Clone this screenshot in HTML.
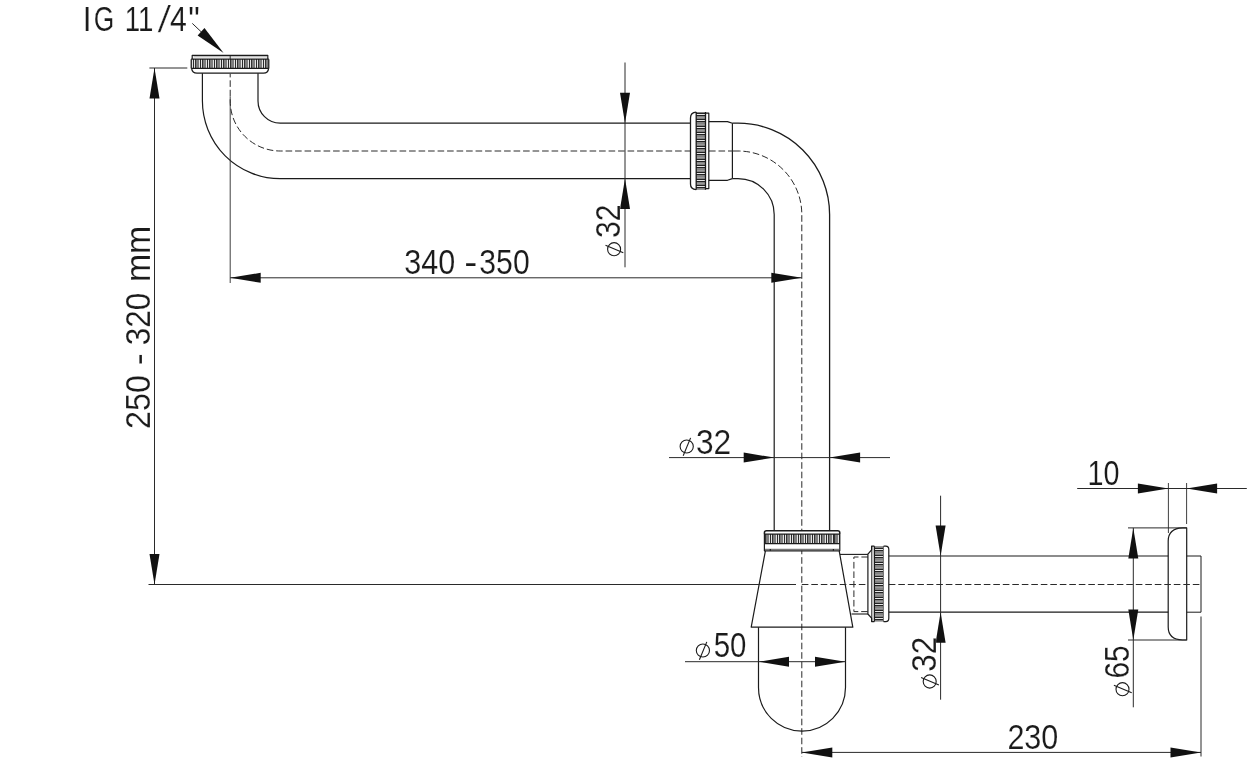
<!DOCTYPE html>
<html><head><meta charset="utf-8"><title>Siphon drawing</title>
<style>
html,body{margin:0;padding:0;background:#fff;}
body{width:1250px;height:763px;overflow:hidden;font-family:"Liberation Sans",sans-serif;}
svg{display:block;will-change:transform}
svg text{font-family:"Liberation Sans",sans-serif;fill:#1b1b1b;stroke:#fff;stroke-width:0.15px;paint-order:fill stroke;}
</style></head><body>
<svg width="1250" height="763" viewBox="0 0 1250 763">
<rect width="1250" height="763" fill="#fff"/>
<path d="M202.4,73.2 V100.80 A77.80,77.80 0 0 0 280.2,178.6 H690.5" fill="none" stroke="#1b1b1b" stroke-width="1.2" stroke-linejoin="round"/>
<path d="M258.0,73.2 V101.00 A22.20,22.20 0 0 0 280.2,123.2 H690.5" fill="none" stroke="#1b1b1b" stroke-width="1.2" stroke-linejoin="round"/>
<path d="M230.2,73.8 V101.00 A50.00,50.00 0 0 0 280.2,151.0 H690.5" fill="none" stroke="#2a2a2a" stroke-width="1.0" stroke-dasharray="6.6 2.9" stroke-dashoffset="3" stroke-linejoin="round"/>
<path d="M192.2,59.2 V55.3 H267.8 V59.2" fill="none" stroke="#1b1b1b" stroke-width="1.2" stroke-linejoin="round"/>
<line x1="193.5" y1="56.8" x2="267" y2="56.8" stroke="#666" stroke-width="0.6"/>
<line x1="230.2" y1="55.3" x2="230.2" y2="59.2" stroke="#1b1b1b" stroke-width="0.9"/>
<rect x="191.2" y="59.2" width="77.60" height="9.20" fill="#7e7e7e"/>
<g shape-rendering="crispEdges"><rect x="191.50" y="59.2" width="1.00" height="9.20" fill="#e4e4e4"/><rect x="192.50" y="59.2" width="1.00" height="9.20" fill="#2a2a2a"/><rect x="193.50" y="59.2" width="1.00" height="9.20" fill="#e4e4e4"/><rect x="194.50" y="59.2" width="1.00" height="9.20" fill="#333"/><rect x="198.50" y="59.2" width="1.00" height="9.20" fill="#e4e4e4"/><rect x="199.50" y="59.2" width="1.00" height="9.20" fill="#2a2a2a"/><rect x="200.50" y="59.2" width="1.00" height="9.20" fill="#e4e4e4"/><rect x="201.50" y="59.2" width="1.00" height="9.20" fill="#333"/><rect x="205.50" y="59.2" width="1.00" height="9.20" fill="#e4e4e4"/><rect x="206.50" y="59.2" width="1.00" height="9.20" fill="#2a2a2a"/><rect x="207.50" y="59.2" width="1.00" height="9.20" fill="#e4e4e4"/><rect x="208.50" y="59.2" width="1.00" height="9.20" fill="#333"/><rect x="212.50" y="59.2" width="1.00" height="9.20" fill="#e4e4e4"/><rect x="213.50" y="59.2" width="1.00" height="9.20" fill="#2a2a2a"/><rect x="214.50" y="59.2" width="1.00" height="9.20" fill="#e4e4e4"/><rect x="215.50" y="59.2" width="1.00" height="9.20" fill="#333"/><rect x="219.50" y="59.2" width="1.00" height="9.20" fill="#e4e4e4"/><rect x="220.50" y="59.2" width="1.00" height="9.20" fill="#2a2a2a"/><rect x="221.50" y="59.2" width="1.00" height="9.20" fill="#e4e4e4"/><rect x="222.50" y="59.2" width="1.00" height="9.20" fill="#333"/><rect x="226.50" y="59.2" width="1.00" height="9.20" fill="#e4e4e4"/><rect x="227.50" y="59.2" width="1.00" height="9.20" fill="#2a2a2a"/><rect x="228.50" y="59.2" width="1.00" height="9.20" fill="#e4e4e4"/><rect x="229.50" y="59.2" width="1.00" height="9.20" fill="#333"/><rect x="233.50" y="59.2" width="1.00" height="9.20" fill="#e4e4e4"/><rect x="234.50" y="59.2" width="1.00" height="9.20" fill="#2a2a2a"/><rect x="235.50" y="59.2" width="1.00" height="9.20" fill="#e4e4e4"/><rect x="236.50" y="59.2" width="1.00" height="9.20" fill="#333"/><rect x="240.50" y="59.2" width="1.00" height="9.20" fill="#e4e4e4"/><rect x="241.50" y="59.2" width="1.00" height="9.20" fill="#2a2a2a"/><rect x="242.50" y="59.2" width="1.00" height="9.20" fill="#e4e4e4"/><rect x="243.50" y="59.2" width="1.00" height="9.20" fill="#333"/><rect x="247.50" y="59.2" width="1.00" height="9.20" fill="#e4e4e4"/><rect x="248.50" y="59.2" width="1.00" height="9.20" fill="#2a2a2a"/><rect x="249.50" y="59.2" width="1.00" height="9.20" fill="#e4e4e4"/><rect x="250.50" y="59.2" width="1.00" height="9.20" fill="#333"/><rect x="254.50" y="59.2" width="1.00" height="9.20" fill="#e4e4e4"/><rect x="255.50" y="59.2" width="1.00" height="9.20" fill="#2a2a2a"/><rect x="256.50" y="59.2" width="1.00" height="9.20" fill="#e4e4e4"/><rect x="257.50" y="59.2" width="1.00" height="9.20" fill="#333"/><rect x="261.50" y="59.2" width="1.00" height="9.20" fill="#e4e4e4"/><rect x="262.50" y="59.2" width="1.00" height="9.20" fill="#2a2a2a"/><rect x="263.50" y="59.2" width="1.00" height="9.20" fill="#e4e4e4"/><rect x="264.50" y="59.2" width="1.00" height="9.20" fill="#333"/><rect x="268.50" y="59.2" width="0.30" height="9.20" fill="#e4e4e4"/></g>
<line x1="191.2" y1="59.2" x2="268.8" y2="59.2" stroke="#1b1b1b" stroke-width="1.25"/>
<line x1="191.2" y1="68.4" x2="268.8" y2="68.4" stroke="#1b1b1b" stroke-width="1.25"/>
<path d="M191.2,59.2 V68.4 M268.8,59.2 V68.4" fill="none" stroke="#1b1b1b" stroke-width="1.2" stroke-linejoin="round"/>
<path d="M191.6,68.4 Q192.2,73.2 197,73.2 H263.5 Q268.2,73.2 268.6,68.4" fill="none" stroke="#1b1b1b" stroke-width="1.2" stroke-linejoin="round"/>
<path d="M696.2,112.2 Q690.5,112.4 690.5,118 V184 Q690.5,189.4 696.2,189.6" fill="none" stroke="#1b1b1b" stroke-width="1.3" stroke-linejoin="round"/>
<rect x="696.2" y="112.0" width="9.30" height="77.80" fill="#838383"/>
<g shape-rendering="crispEdges"><rect x="696.2" y="112.60" width="9.30" height="1.00" fill="#222"/><rect x="696.2" y="113.60" width="9.30" height="1.00" fill="#e8e8e8"/><rect x="696.2" y="114.60" width="9.30" height="1.00" fill="#222"/><rect x="696.2" y="117.20" width="9.30" height="1.00" fill="#9a9a9a"/><rect x="696.2" y="119.20" width="9.30" height="1.00" fill="#222"/><rect x="696.2" y="120.20" width="9.30" height="1.00" fill="#e8e8e8"/><rect x="696.2" y="121.20" width="9.30" height="1.00" fill="#222"/><rect x="696.2" y="123.80" width="9.30" height="1.00" fill="#9a9a9a"/><rect x="696.2" y="125.80" width="9.30" height="1.00" fill="#222"/><rect x="696.2" y="126.80" width="9.30" height="1.00" fill="#e8e8e8"/><rect x="696.2" y="127.80" width="9.30" height="1.00" fill="#222"/><rect x="696.2" y="130.40" width="9.30" height="1.00" fill="#9a9a9a"/><rect x="696.2" y="132.40" width="9.30" height="1.00" fill="#222"/><rect x="696.2" y="133.40" width="9.30" height="1.00" fill="#e8e8e8"/><rect x="696.2" y="134.40" width="9.30" height="1.00" fill="#222"/><rect x="696.2" y="137.00" width="9.30" height="1.00" fill="#9a9a9a"/><rect x="696.2" y="139.00" width="9.30" height="1.00" fill="#222"/><rect x="696.2" y="140.00" width="9.30" height="1.00" fill="#e8e8e8"/><rect x="696.2" y="141.00" width="9.30" height="1.00" fill="#222"/><rect x="696.2" y="143.60" width="9.30" height="1.00" fill="#9a9a9a"/><rect x="696.2" y="145.60" width="9.30" height="1.00" fill="#222"/><rect x="696.2" y="146.60" width="9.30" height="1.00" fill="#e8e8e8"/><rect x="696.2" y="147.60" width="9.30" height="1.00" fill="#222"/><rect x="696.2" y="150.20" width="9.30" height="1.00" fill="#9a9a9a"/><rect x="696.2" y="152.20" width="9.30" height="1.00" fill="#222"/><rect x="696.2" y="153.20" width="9.30" height="1.00" fill="#e8e8e8"/><rect x="696.2" y="154.20" width="9.30" height="1.00" fill="#222"/><rect x="696.2" y="156.80" width="9.30" height="1.00" fill="#9a9a9a"/><rect x="696.2" y="158.80" width="9.30" height="1.00" fill="#222"/><rect x="696.2" y="159.80" width="9.30" height="1.00" fill="#e8e8e8"/><rect x="696.2" y="160.80" width="9.30" height="1.00" fill="#222"/><rect x="696.2" y="163.40" width="9.30" height="1.00" fill="#9a9a9a"/><rect x="696.2" y="165.40" width="9.30" height="1.00" fill="#222"/><rect x="696.2" y="166.40" width="9.30" height="1.00" fill="#e8e8e8"/><rect x="696.2" y="167.40" width="9.30" height="1.00" fill="#222"/><rect x="696.2" y="170.00" width="9.30" height="1.00" fill="#9a9a9a"/><rect x="696.2" y="172.00" width="9.30" height="1.00" fill="#222"/><rect x="696.2" y="173.00" width="9.30" height="1.00" fill="#e8e8e8"/><rect x="696.2" y="174.00" width="9.30" height="1.00" fill="#222"/><rect x="696.2" y="176.60" width="9.30" height="1.00" fill="#9a9a9a"/><rect x="696.2" y="178.60" width="9.30" height="1.00" fill="#222"/><rect x="696.2" y="179.60" width="9.30" height="1.00" fill="#e8e8e8"/><rect x="696.2" y="180.60" width="9.30" height="1.00" fill="#222"/><rect x="696.2" y="183.20" width="9.30" height="1.00" fill="#9a9a9a"/><rect x="696.2" y="185.20" width="9.30" height="1.00" fill="#222"/><rect x="696.2" y="186.20" width="9.30" height="1.00" fill="#e8e8e8"/><rect x="696.2" y="187.20" width="9.30" height="1.00" fill="#222"/><rect x="696.2" y="189.80" width="9.30" height="0.00" fill="#9a9a9a"/></g>
<line x1="696.2" y1="112.0" x2="696.2" y2="189.8" stroke="#1b1b1b" stroke-width="1.3"/>
<line x1="705.5" y1="112.0" x2="705.5" y2="189.8" stroke="#1b1b1b" stroke-width="1.3"/>
<path d="M705.5,113.2 H708.8 V188.6 H705.5" fill="none" stroke="#1b1b1b" stroke-width="1.2" stroke-linejoin="round"/>
<path d="M708.8,121.6 H727.5 L732.4,123.2 M708.8,180.3 H727.5 L732.4,178.6 M732.4,123.2 V178.6" fill="none" stroke="#1b1b1b" stroke-width="1.2" stroke-linejoin="round"/>
<line x1="709" y1="151.0" x2="734" y2="151.0" stroke="#2a2a2a" stroke-width="1.0" stroke-dasharray="6.6 2.9" stroke-dashoffset="0"/>
<path d="M732.4,123.2 H738.0 A91.60,91.30 0 0 1 829.6,214.5 V530.5" fill="none" stroke="#1b1b1b" stroke-width="1.3" stroke-linejoin="round"/>
<path d="M732.4,178.6 H738.0 A36.20,35.90 0 0 1 774.2,214.5 V530.5" fill="none" stroke="#1b1b1b" stroke-width="1.2" stroke-linejoin="round"/>
<path d="M734,151.0 H738.0 A63.80,63.50 0 0 1 801.8,214.5 V757" fill="none" stroke="#2a2a2a" stroke-width="1.0" stroke-dasharray="6.6 2.9" stroke-dashoffset="0" stroke-linejoin="round"/>
<rect x="764.4" y="530.6" width="75.4" height="20.2" fill="#fff"/>
<path d="M764.4,534.2 V532.8 Q764.4,530.7 766.6,530.7 H837.6 Q839.8,530.7 839.8,532.8 V534.2" fill="none" stroke="#1b1b1b" stroke-width="1.5" stroke-linejoin="round"/>
<rect x="764.4" y="534.2" width="75.40" height="9.50" fill="#7e7e7e"/>
<g shape-rendering="crispEdges"><rect x="764.40" y="534.2" width="0.10" height="9.50" fill="#2a2a2a"/><rect x="764.50" y="534.2" width="1.00" height="9.50" fill="#e4e4e4"/><rect x="765.40" y="534.2" width="1.00" height="9.50" fill="#333"/><rect x="769.40" y="534.2" width="1.00" height="9.50" fill="#e4e4e4"/><rect x="770.40" y="534.2" width="1.00" height="9.50" fill="#2a2a2a"/><rect x="771.40" y="534.2" width="1.00" height="9.50" fill="#e4e4e4"/><rect x="772.30" y="534.2" width="1.00" height="9.50" fill="#333"/><rect x="776.30" y="534.2" width="1.00" height="9.50" fill="#e4e4e4"/><rect x="777.30" y="534.2" width="1.00" height="9.50" fill="#2a2a2a"/><rect x="778.30" y="534.2" width="1.00" height="9.50" fill="#e4e4e4"/><rect x="779.20" y="534.2" width="1.00" height="9.50" fill="#333"/><rect x="783.20" y="534.2" width="1.00" height="9.50" fill="#e4e4e4"/><rect x="784.20" y="534.2" width="1.00" height="9.50" fill="#2a2a2a"/><rect x="785.20" y="534.2" width="1.00" height="9.50" fill="#e4e4e4"/><rect x="786.10" y="534.2" width="1.00" height="9.50" fill="#333"/><rect x="790.10" y="534.2" width="1.00" height="9.50" fill="#e4e4e4"/><rect x="791.10" y="534.2" width="1.00" height="9.50" fill="#2a2a2a"/><rect x="792.10" y="534.2" width="1.00" height="9.50" fill="#e4e4e4"/><rect x="793.00" y="534.2" width="1.00" height="9.50" fill="#333"/><rect x="797.00" y="534.2" width="1.00" height="9.50" fill="#e4e4e4"/><rect x="798.00" y="534.2" width="1.00" height="9.50" fill="#2a2a2a"/><rect x="799.00" y="534.2" width="1.00" height="9.50" fill="#e4e4e4"/><rect x="799.90" y="534.2" width="1.00" height="9.50" fill="#333"/><rect x="803.90" y="534.2" width="1.00" height="9.50" fill="#e4e4e4"/><rect x="804.90" y="534.2" width="1.00" height="9.50" fill="#2a2a2a"/><rect x="805.90" y="534.2" width="1.00" height="9.50" fill="#e4e4e4"/><rect x="806.80" y="534.2" width="1.00" height="9.50" fill="#333"/><rect x="810.80" y="534.2" width="1.00" height="9.50" fill="#e4e4e4"/><rect x="811.80" y="534.2" width="1.00" height="9.50" fill="#2a2a2a"/><rect x="812.80" y="534.2" width="1.00" height="9.50" fill="#e4e4e4"/><rect x="813.70" y="534.2" width="1.00" height="9.50" fill="#333"/><rect x="817.70" y="534.2" width="1.00" height="9.50" fill="#e4e4e4"/><rect x="818.70" y="534.2" width="1.00" height="9.50" fill="#2a2a2a"/><rect x="819.70" y="534.2" width="1.00" height="9.50" fill="#e4e4e4"/><rect x="820.60" y="534.2" width="1.00" height="9.50" fill="#333"/><rect x="824.60" y="534.2" width="1.00" height="9.50" fill="#e4e4e4"/><rect x="825.60" y="534.2" width="1.00" height="9.50" fill="#2a2a2a"/><rect x="826.60" y="534.2" width="1.00" height="9.50" fill="#e4e4e4"/><rect x="827.50" y="534.2" width="1.00" height="9.50" fill="#333"/><rect x="831.50" y="534.2" width="1.00" height="9.50" fill="#e4e4e4"/><rect x="832.50" y="534.2" width="1.00" height="9.50" fill="#2a2a2a"/><rect x="833.50" y="534.2" width="1.00" height="9.50" fill="#e4e4e4"/><rect x="834.40" y="534.2" width="1.00" height="9.50" fill="#333"/><rect x="838.40" y="534.2" width="1.00" height="9.50" fill="#e4e4e4"/><rect x="839.40" y="534.2" width="0.40" height="9.50" fill="#2a2a2a"/></g>
<line x1="764.4" y1="534.2" x2="839.8" y2="534.2" stroke="#1b1b1b" stroke-width="1.25"/>
<line x1="764.4" y1="543.7" x2="839.8" y2="543.7" stroke="#1b1b1b" stroke-width="1.25"/>
<path d="M764.4,534.2 V550.8 H839.8 V534.2" fill="none" stroke="#1b1b1b" stroke-width="1.2" stroke-linejoin="round"/>
<line x1="765" y1="549.3" x2="839.4" y2="549.3" stroke="#444" stroke-width="0.9"/>
<line x1="770.3" y1="549.0" x2="770.3" y2="550.8" stroke="#1b1b1b" stroke-width="1.2"/>
<line x1="833.4" y1="549.0" x2="833.4" y2="550.8" stroke="#1b1b1b" stroke-width="1.2"/>
<path d="M765.4,550.8 L751.2,627.2 H852.8 L839.2,550.8" fill="none" stroke="#1b1b1b" stroke-width="1.2" stroke-linejoin="round"/>
<path d="M758.5,627.2 V687.6 A43.5,43.5 0 0 0 845.5,687.6 V627.2" fill="none" stroke="#1b1b1b" stroke-width="1.2" stroke-linejoin="round"/>
<line x1="840" y1="554.4" x2="868" y2="554.4" stroke="#1b1b1b" stroke-width="1.1"/>
<line x1="851.5" y1="614" x2="868" y2="614" stroke="#1b1b1b" stroke-width="1.1"/>
<path d="M868,557 H853.9 V611.6 H868" fill="none" stroke="#2a2a2a" stroke-width="1.0" stroke-dasharray="6.6 2.9" stroke-dashoffset="0" stroke-linejoin="round"/>
<path d="M874.4,546.2 H871.6 V549.8 L867.9,554.2 V614 L871.6,618.2 V621.6 H874.4" fill="#fff" stroke="#1b1b1b" stroke-width="1.2" stroke-linejoin="round"/>
<line x1="871.8" y1="546.2" x2="871.8" y2="621.6" stroke="#1b1b1b" stroke-width="1.0"/>
<rect x="874.4" y="546.2" width="9.20" height="75.40" fill="#838383"/>
<g shape-rendering="crispEdges"><rect x="874.4" y="546.20" width="9.20" height="0.70" fill="#9a9a9a"/><rect x="874.4" y="548.20" width="9.20" height="1.00" fill="#222"/><rect x="874.4" y="549.20" width="9.20" height="1.00" fill="#e8e8e8"/><rect x="874.4" y="550.20" width="9.20" height="1.00" fill="#222"/><rect x="874.4" y="552.80" width="9.20" height="1.00" fill="#9a9a9a"/><rect x="874.4" y="555.10" width="9.20" height="1.00" fill="#222"/><rect x="874.4" y="556.10" width="9.20" height="1.00" fill="#e8e8e8"/><rect x="874.4" y="557.10" width="9.20" height="1.00" fill="#222"/><rect x="874.4" y="559.70" width="9.20" height="1.00" fill="#9a9a9a"/><rect x="874.4" y="562.00" width="9.20" height="1.00" fill="#222"/><rect x="874.4" y="563.00" width="9.20" height="1.00" fill="#e8e8e8"/><rect x="874.4" y="564.00" width="9.20" height="1.00" fill="#222"/><rect x="874.4" y="566.60" width="9.20" height="1.00" fill="#9a9a9a"/><rect x="874.4" y="568.90" width="9.20" height="1.00" fill="#222"/><rect x="874.4" y="569.90" width="9.20" height="1.00" fill="#e8e8e8"/><rect x="874.4" y="570.90" width="9.20" height="1.00" fill="#222"/><rect x="874.4" y="573.50" width="9.20" height="1.00" fill="#9a9a9a"/><rect x="874.4" y="575.80" width="9.20" height="1.00" fill="#222"/><rect x="874.4" y="576.80" width="9.20" height="1.00" fill="#e8e8e8"/><rect x="874.4" y="577.80" width="9.20" height="1.00" fill="#222"/><rect x="874.4" y="580.40" width="9.20" height="1.00" fill="#9a9a9a"/><rect x="874.4" y="582.70" width="9.20" height="1.00" fill="#222"/><rect x="874.4" y="583.70" width="9.20" height="1.00" fill="#e8e8e8"/><rect x="874.4" y="584.70" width="9.20" height="1.00" fill="#222"/><rect x="874.4" y="587.30" width="9.20" height="1.00" fill="#9a9a9a"/><rect x="874.4" y="589.60" width="9.20" height="1.00" fill="#222"/><rect x="874.4" y="590.60" width="9.20" height="1.00" fill="#e8e8e8"/><rect x="874.4" y="591.60" width="9.20" height="1.00" fill="#222"/><rect x="874.4" y="594.20" width="9.20" height="1.00" fill="#9a9a9a"/><rect x="874.4" y="596.50" width="9.20" height="1.00" fill="#222"/><rect x="874.4" y="597.50" width="9.20" height="1.00" fill="#e8e8e8"/><rect x="874.4" y="598.50" width="9.20" height="1.00" fill="#222"/><rect x="874.4" y="601.10" width="9.20" height="1.00" fill="#9a9a9a"/><rect x="874.4" y="603.40" width="9.20" height="1.00" fill="#222"/><rect x="874.4" y="604.40" width="9.20" height="1.00" fill="#e8e8e8"/><rect x="874.4" y="605.40" width="9.20" height="1.00" fill="#222"/><rect x="874.4" y="608.00" width="9.20" height="1.00" fill="#9a9a9a"/><rect x="874.4" y="610.30" width="9.20" height="1.00" fill="#222"/><rect x="874.4" y="611.30" width="9.20" height="1.00" fill="#e8e8e8"/><rect x="874.4" y="612.30" width="9.20" height="1.00" fill="#222"/><rect x="874.4" y="614.90" width="9.20" height="1.00" fill="#9a9a9a"/><rect x="874.4" y="617.20" width="9.20" height="1.00" fill="#222"/><rect x="874.4" y="618.20" width="9.20" height="1.00" fill="#e8e8e8"/><rect x="874.4" y="619.20" width="9.20" height="1.00" fill="#222"/></g>
<line x1="874.4" y1="546.2" x2="874.4" y2="621.6" stroke="#1b1b1b" stroke-width="1.3"/>
<line x1="883.6" y1="546.2" x2="883.6" y2="621.6" stroke="#1b1b1b" stroke-width="1.3"/>
<path d="M883.6,546.2 H885.8 Q888.8,546.2 888.8,549.5 V618.3 Q888.8,621.6 885.8,621.6 H883.6" fill="#fff" stroke="#1b1b1b" stroke-width="1.2" stroke-linejoin="round"/>
<line x1="888.8" y1="556.0" x2="1168.2" y2="556.0" stroke="#1b1b1b" stroke-width="1.2"/>
<line x1="888.8" y1="612.2" x2="1168.2" y2="612.2" stroke="#1b1b1b" stroke-width="1.2"/>
<path d="M1186.7,556.0 H1201 V612.2 H1186.7" fill="none" stroke="#1b1b1b" stroke-width="1.0" stroke-linejoin="round"/>
<path d="M1186.7,527.9 H1182.5 Q1168.2,528.5 1168.2,541 V627 Q1168.2,639.4 1182.5,640 H1186.7 Z" fill="none" stroke="#1b1b1b" stroke-width="1.2" stroke-linejoin="round"/>
<line x1="148.5" y1="584.5" x2="796" y2="584.5" stroke="#2a2a2a" stroke-width="1.0"/>
<line x1="801.8" y1="584.5" x2="867.9" y2="584.5" stroke="#2a2a2a" stroke-width="1.0" stroke-dasharray="6.6 2.9" stroke-dashoffset="0"/>
<line x1="888.8" y1="584.5" x2="1201" y2="584.5" stroke="#2a2a2a" stroke-width="1.0" stroke-dasharray="6.6 2.9" stroke-dashoffset="0"/>
<line x1="154.5" y1="68.0" x2="154.5" y2="584.5" stroke="#2a2a2a" stroke-width="1.0"/>
<line x1="149.4" y1="68.0" x2="187.3" y2="68.0" stroke="#2a2a2a" stroke-width="1.0"/>
<polygon points="154.50,68.00 159.50,98.50 149.50,98.50" fill="#111"/>
<polygon points="154.50,584.50 149.50,554.00 159.50,554.00" fill="#111"/>
<text transform="translate(149.97,428.99) rotate(-90) scale(0.9491,1.015)" font-size="34">250</text>
<text transform="translate(149.97,365.25) rotate(-90) scale(1.0529,1.015)" font-size="34">-</text>
<text transform="translate(149.97,345.23) rotate(-90) scale(0.9281,1.015)" font-size="34">320</text>
<text transform="translate(149.97,282.11) rotate(-90) scale(0.9962,1.015)" font-size="34">mm</text>
<line x1="230.2" y1="96.5" x2="230.2" y2="283" stroke="#2a2a2a" stroke-width="0.9"/>
<line x1="230.2" y1="277.8" x2="801.8" y2="277.8" stroke="#2a2a2a" stroke-width="1.0"/>
<polygon points="230.20,277.80 260.70,272.80 260.70,282.80" fill="#111"/>
<polygon points="801.80,277.80 771.30,282.80 771.30,272.80" fill="#111"/>
<text transform="translate(404.21,273.67) scale(0.8986,1.015)" font-size="34">340</text>
<text transform="translate(464.29,273.67) scale(1.1588,1.015)" font-size="34">-</text>
<text transform="translate(479.32,273.67) scale(0.8876,1.015)" font-size="34">350</text>
<line x1="625.0" y1="62.5" x2="625.0" y2="267.3" stroke="#2a2a2a" stroke-width="1.0"/>
<polygon points="625.00,123.20 620.00,92.70 630.00,92.70" fill="#111"/>
<polygon points="625.00,178.60 630.00,209.10 620.00,209.10" fill="#111"/>
<text transform="translate(620.27,238.08) rotate(-90) scale(0.8871,1.015)" font-size="34">32</text>
<g fill="none" stroke="#1b1b1b" stroke-width="1.1"><ellipse cx="614.1" cy="249.2" rx="6.5" ry="6.6"/><line x1="623.30" y1="252.70" x2="605.50" y2="245.30"/></g>
<line x1="669" y1="457.6" x2="890" y2="457.6" stroke="#2a2a2a" stroke-width="1.0"/>
<polygon points="774.20,457.60 743.70,462.60 743.70,452.60" fill="#111"/>
<polygon points="829.60,457.60 860.10,452.60 860.10,462.60" fill="#111"/>
<text transform="translate(695.96,453.97) scale(0.9329,1.015)" font-size="34">32</text>
<g fill="none" stroke="#1b1b1b" stroke-width="1.1"><ellipse cx="686.7" cy="446.5" rx="6.6" ry="6.5"/><line x1="683.20" y1="455.70" x2="690.60" y2="437.90"/></g>
<line x1="685" y1="661.7" x2="845.5" y2="661.7" stroke="#2a2a2a" stroke-width="1.0"/>
<polygon points="758.50,661.70 789.00,656.70 789.00,666.70" fill="#111"/>
<polygon points="845.50,661.70 815.00,666.70 815.00,656.70" fill="#111"/>
<text transform="translate(713.73,657.47) scale(0.8643,1.015)" font-size="34">50</text>
<g fill="none" stroke="#1b1b1b" stroke-width="1.1"><ellipse cx="702.9" cy="650.5" rx="6.6" ry="6.5"/><line x1="699.40" y1="659.70" x2="706.80" y2="641.90"/></g>
<line x1="940.6" y1="495.7" x2="940.6" y2="699.7" stroke="#2a2a2a" stroke-width="1.0"/>
<polygon points="940.60,556.00 935.60,525.50 945.60,525.50" fill="#111"/>
<polygon points="940.60,612.20 945.60,642.70 935.60,642.70" fill="#111"/>
<text transform="translate(936.27,671.63) rotate(-90) scale(0.9243,1.015)" font-size="34">32</text>
<g fill="none" stroke="#1b1b1b" stroke-width="1.1"><ellipse cx="929.7" cy="681.5" rx="6.5" ry="6.6"/><line x1="938.90" y1="685.00" x2="921.10" y2="677.60"/></g>
<line x1="1133.3" y1="527.9" x2="1133.3" y2="707.3" stroke="#2a2a2a" stroke-width="1.0"/>
<line x1="1128" y1="527.9" x2="1186.7" y2="527.9" stroke="#2a2a2a" stroke-width="1.0"/>
<line x1="1128" y1="640" x2="1186.7" y2="640" stroke="#2a2a2a" stroke-width="1.0"/>
<polygon points="1133.30,527.90 1138.30,558.40 1128.30,558.40" fill="#111"/>
<polygon points="1133.30,640.00 1128.30,609.50 1138.30,609.50" fill="#111"/>
<text transform="translate(1129.17,678.51) rotate(-90) scale(0.8791,1.015)" font-size="34">65</text>
<g fill="none" stroke="#1b1b1b" stroke-width="1.1"><ellipse cx="1122.5" cy="689.2" rx="6.5" ry="6.6"/><line x1="1131.70" y1="692.70" x2="1113.90" y2="685.30"/></g>
<line x1="1077.2" y1="488.5" x2="1246.8" y2="488.5" stroke="#2a2a2a" stroke-width="1.0"/>
<line x1="1168.4" y1="483" x2="1168.4" y2="533" stroke="#2a2a2a" stroke-width="0.9"/>
<line x1="1186.6" y1="483" x2="1186.6" y2="524" stroke="#2a2a2a" stroke-width="0.9"/>
<polygon points="1168.40,488.50 1137.90,493.50 1137.90,483.50" fill="#111"/>
<polygon points="1186.60,488.50 1217.10,483.50 1217.10,493.50" fill="#111"/>
<text transform="translate(1087.52,484.87) scale(0.8456,1.015)" font-size="34">10</text>
<line x1="801.8" y1="752.4" x2="1201" y2="752.4" stroke="#2a2a2a" stroke-width="1.0"/>
<line x1="1201" y1="616.5" x2="1201" y2="756.5" stroke="#2a2a2a" stroke-width="1.0"/>
<polygon points="801.80,752.40 832.30,747.40 832.30,757.40" fill="#111"/>
<polygon points="1201.00,752.40 1170.50,757.40 1170.50,747.40" fill="#111"/>
<text transform="translate(1007.38,748.87) scale(0.8991,1.015)" font-size="34">230</text>
<text transform="translate(82.84,30.97) scale(0.9286,1.015)" font-size="34">I</text>
<text transform="translate(93.67,30.97) scale(0.7753,1.015)" font-size="34">G</text>
<text transform="translate(124.69,30.97) scale(0.8144,1.015)" font-size="34">11</text>
<text transform="translate(157.7,32.0) skewX(-7.6) scale(1,1.10)" font-size="34">/</text>
<text transform="translate(169.96,30.97) scale(0.8899,1.015)" font-size="34">4</text>
<text transform="translate(188.19,30.97) scale(0.9568,1.015)" font-size="34">&quot;</text>
<line x1="192.3" y1="23.4" x2="202" y2="32.6" stroke="#2a2a2a" stroke-width="1.0"/>
<polygon points="223.60,53.00 197.61,35.38 204.47,28.10" fill="#111"/>
</svg>
</body></html>
